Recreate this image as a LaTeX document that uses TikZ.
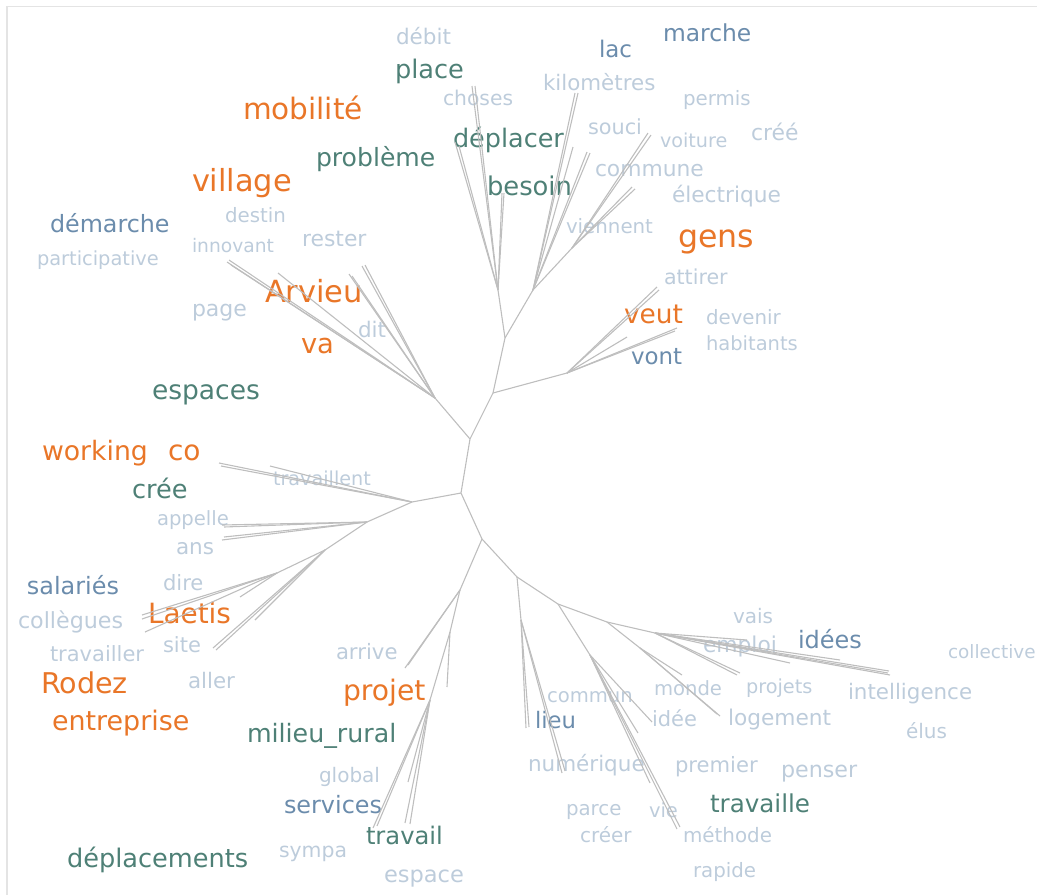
\documentclass[tikz,border=0pt]{standalone}
\usepackage{fontspec}
\setmainfont{DejaVu Sans}
\definecolor{orangec}{HTML}{E97628}
\definecolor{tealc}{HTML}{4E8076}
\definecolor{slatec}{HTML}{6B8CAC}
\definecolor{lightc}{HTML}{BDCCDB}
\definecolor{treec}{HTML}{BEBEBE}
\definecolor{framec}{HTML}{E4E4E4}
\newcommand\fsz[1]{\fontsize{#1}{#1}\selectfont}
\tikzset{
  wd/.style={inner sep=0pt, outer sep=0pt, anchor=base west},
  og/.style={wd, text=orangec},
  tl/.style={wd, text=tealc},
  sl/.style={wd, text=slatec},
  lt/.style={wd, text=lightc},
  br/.style={draw=treec, line width=1.1pt},
  frm/.style={draw=framec, line width=1.6pt},
}
\begin{document}
\begin{tikzpicture}[x=1pt, y=-1pt]
\useasboundingbox (0,0) rectangle (1037,895);
\coordinate (f1) at (7,895);
\coordinate (f2) at (7,6.5);
\coordinate (f3) at (1037,6.5);
\draw[frm] (f1) -- (f2) -- (f3);

% words
\node[lt, font=\fsz{21.5}] (debit) at (396,44) {débit};
\node[tl, font=\fsz{25.6}] (place) at (395,78) {place};
\node[og, font=\fsz{29.5}] (mobilite) at (243,119) {mobilité};
\node[lt, font=\fsz{20.3}] (choses) at (443,105) {choses};
\node[tl, font=\fsz{25.5}] (deplacer) at (453,147) {déplacer};
\node[tl, font=\fsz{25.1}] (probleme) at (316,166) {problème};
\node[og, font=\fsz{30.4}] (village) at (192,191) {village};
\node[tl, font=\fsz{25.8}] (besoin) at (487,195) {besoin};
\node[sl, font=\fsz{23.8}] (demarche) at (50,232) {démarche};
\node[lt, font=\fsz{19.8}] (destin) at (225,222) {destin};
\node[lt, font=\fsz{18.7}] (innovant) at (192,252) {innovant};
\node[lt, font=\fsz{21.9}] (rester) at (302,246) {rester};
\node[lt, font=\fsz{19.4}] (participative) at (37,265) {participative};
\node[og, font=\fsz{30.5}] (arvieu) at (265,302) {Arvieu};
\node[lt, font=\fsz{22}] (page) at (192,316) {page};
\node[lt, font=\fsz{21.5}] (dit) at (358,337) {dit};
\node[og, font=\fsz{27.4}] (va) at (301,353) {va};
\node[tl, font=\fsz{26.5}] (espaces) at (152,399) {espaces};
\node[sl, font=\fsz{22.9}] (lac) at (599,57) {lac};
\node[sl, font=\fsz{23.4}] (marche) at (663,41) {marche};
\node[lt, font=\fsz{21.4}] (kilometres) at (543,90) {kilomètres};
\node[lt, font=\fsz{19.8}] (permis) at (683,105) {permis};
\node[lt, font=\fsz{20.8}] (souci) at (588,134) {souci};
\node[lt, font=\fsz{19.2}] (voiture) at (660,147) {voiture};
\node[lt, font=\fsz{21.9}] (creee) at (751,140) {créé};
\node[lt, font=\fsz{21.8}] (commune) at (595,176) {commune};
\node[lt, font=\fsz{21.7}] (electrique) at (672,202) {électrique};
\node[lt, font=\fsz{19.8}] (viennent) at (566,233) {viennent};
\node[og, font=\fsz{31.6}] (gens) at (678,247) {gens};
\node[lt, font=\fsz{20.6}] (attirer) at (664,284) {attirer};
\node[og, font=\fsz{26.4}] (veut) at (624,323) {veut};
\node[lt, font=\fsz{19.8}] (devenir) at (706,324) {devenir};
\node[lt, font=\fsz{19.5}] (habitants) at (706,350) {habitants};
\node[sl, font=\fsz{22.9}] (vont) at (631,364) {vont};
\node[og, font=\fsz{26.7}] (working) at (42,460) {working};
\node[og, font=\fsz{28}] (co) at (168,460) {co};
\node[tl, font=\fsz{25.6}] (cree) at (132,498) {crée};
\node[lt, font=\fsz{19.2}] (travaillent) at (273,485) {travaillent};
\node[lt, font=\fsz{19.6}] (appelle) at (157,525) {appelle};
\node[lt, font=\fsz{21.5}] (ans) at (176,554) {ans};
\node[sl, font=\fsz{23.9}] (salaries) at (27,594) {salariés};
\node[lt, font=\fsz{21.1}] (dire) at (163,590) {dire};
\node[lt, font=\fsz{22.2}] (collegues) at (18,628) {collègues};
\node[og, font=\fsz{27.9}] (laetis) at (148,623) {Laetis};
\node[lt, font=\fsz{21}] (travailler) at (50,661) {travailler};
\node[lt, font=\fsz{21}] (site) at (163,652) {site};
\node[og, font=\fsz{28.6}] (rodez) at (41,693) {Rodez};
\node[lt, font=\fsz{21.4}] (aller) at (188,688) {aller};
\node[lt, font=\fsz{21.2}] (arrive) at (336,659) {arrive};
\node[og, font=\fsz{28.2}] (projet) at (343,700) {projet};
\node[og, font=\fsz{26.9}] (entreprise) at (52,730) {entreprise};
\node[tl, font=\fsz{25.3}] (milieu) at (247,742) {milieu\_rural};
\node[lt, font=\fsz{20}] (global) at (319,782) {global};
\node[sl, font=\fsz{23.9}] (services) at (284,813) {services};
\node[tl, font=\fsz{24.2}] (travail) at (366,844) {travail};
\node[tl, font=\fsz{25.6}] (deplacements) at (67,867) {déplacements};
\node[lt, font=\fsz{20.4}] (sympa) at (279,857) {sympa};
\node[lt, font=\fsz{22.5}] (espace) at (384,882) {espace};
\node[lt, font=\fsz{20}] (vais) at (733,623) {vais};
\node[lt, font=\fsz{21.8}] (emploi) at (703,652) {emploi};
\node[sl, font=\fsz{24}] (idees) at (798,648) {idées};
\node[lt, font=\fsz{18.4}] (collective) at (948,658) {collective};
\node[lt, font=\fsz{19.6}] (commun) at (547,702) {commun};
\node[lt, font=\fsz{19.6}] (monde) at (654,695) {monde};
\node[lt, font=\fsz{19.3}] (projets) at (746,693) {projets};
\node[lt, font=\fsz{21.4}] (intelligence) at (848,699) {intelligence};
\node[sl, font=\fsz{22.7}] (lieu) at (535,728) {lieu};
\node[lt, font=\fsz{21}] (idee) at (652,726) {idée};
\node[lt, font=\fsz{21.7}] (logement) at (728,725) {logement};
\node[lt, font=\fsz{20}] (elus) at (906,738) {élus};
\node[lt, font=\fsz{21.5}] (numerique) at (528,771) {numérique};
\node[lt, font=\fsz{21.1}] (premier) at (675,772) {premier};
\node[lt, font=\fsz{22.2}] (penser) at (781,777) {penser};
\node[tl, font=\fsz{24.6}] (travaille) at (710,812) {travaille};
\node[lt, font=\fsz{19.8}] (parce) at (566,815) {parce};
\node[lt, font=\fsz{19.5}] (vie) at (649,817) {vie};
\node[lt, font=\fsz{20}] (creer) at (580,842) {créer};
\node[lt, font=\fsz{19.9}] (methode) at (683,842) {méthode};
\node[lt, font=\fsz{19.8}] (rapide) at (693,877) {rapide};

% tree joints
\coordinate (c0) at (493,393);
\coordinate (c1) at (470,439);
\coordinate (c2) at (461,493);
\coordinate (c3) at (482,539);
\coordinate (c4) at (517,577);
\coordinate (c5) at (558,604);
\coordinate (c6) at (607,622);
\coordinate (c7) at (655,633);
\coordinate (j1) at (505,338);
\coordinate (t1) at (498,290);
\coordinate (t2) at (533,290);
\coordinate (t3) at (572,248);
\coordinate (v1) at (567,373);
\coordinate (w1) at (435,398);
\coordinate (l1) at (412,502);
\coordinate (l2) at (367,522);
\coordinate (l3) at (325,550);
\coordinate (l4) at (277,573);
\coordinate (p1) at (460,590);
\coordinate (p2) at (450,632);
\coordinate (p3) at (430,700);
\coordinate (q1) at (521,620);
\coordinate (r1) at (590,655);
\coordinate (s1) at (640,648);

% leaves
\coordinate (a1) at (472,86);  \coordinate (a2) at (475,86);
\coordinate (a3) at (455,142); \coordinate (a4) at (459,146);
\coordinate (a5) at (502,193); \coordinate (a6) at (504,193);
\coordinate (b1) at (575,93);  \coordinate (b2) at (578,93);
\coordinate (b3) at (573,147); \coordinate (b4) at (587,152);
\coordinate (b5) at (590,153);
\coordinate (b6) at (648,133); \coordinate (b7) at (651,135);
\coordinate (b8) at (632,187); \coordinate (b9) at (635,189);
\coordinate (d1) at (657,287); \coordinate (d2) at (659,290);
\coordinate (d3) at (677,328); \coordinate (d4) at (675,331);
\coordinate (d5) at (627,337);
\coordinate (e1) at (227,262); \coordinate (e2) at (229,260);
\coordinate (e3) at (231,265); \coordinate (e4) at (278,273);
\coordinate (e5) at (349,274); \coordinate (e6) at (352,276);
\coordinate (e7) at (362,266); \coordinate (e8) at (365,265);
\coordinate (g1) at (219,463); \coordinate (g2) at (221,466);
\coordinate (g3) at (270,466);
\coordinate (g4) at (222,525); \coordinate (g5) at (224,527);
\coordinate (g6) at (222,540); \coordinate (g7) at (224,537);
\coordinate (g8) at (142,615); \coordinate (g9) at (142,619);
\coordinate (g10) at (145,632); \coordinate (g11) at (240,597);
\coordinate (g12) at (213,648); \coordinate (g13) at (216,650);
\coordinate (g14) at (255,620);
\coordinate (h1) at (405,668); \coordinate (h2) at (408,665);
\coordinate (h3) at (447,687);
\coordinate (h4) at (373,828); \coordinate (h5) at (377,826);
\coordinate (h6) at (405,823); \coordinate (h7) at (408,782);
\coordinate (h8) at (410,824);
\coordinate (k1) at (526,728); \coordinate (k2) at (529,727);
\coordinate (k3) at (562,773); \coordinate (k4) at (565,771);
\coordinate (m1) at (652,722); \coordinate (m2) at (638,733);
\coordinate (m3) at (680,827); \coordinate (m4) at (677,829);
\coordinate (m5) at (650,783);
\coordinate (n1) at (682,675); \coordinate (n2) at (717,714);
\coordinate (n3) at (720,716);
\coordinate (o1) at (737,675); \coordinate (o2) at (740,673);
\coordinate (o3) at (790,663); \coordinate (o4) at (840,660);
\coordinate (o5) at (889,671); \coordinate (o6) at (890,675);
\coordinate (o7) at (888,673); \coordinate (o8) at (747,640);

% trunk
\draw[br] (j1) -- (c0) -- (c1) -- (c2) -- (c3) -- (c4) -- (c5) -- (c6) -- (c7);
\draw[br] (c0) -- (v1);
\draw[br] (c1) -- (w1);
\draw[br] (c2) -- (l1);
\draw[br] (c3) -- (p1);
\draw[br] (j1) -- (t1);
\draw[br] (j1) -- (t2) -- (t3);
\draw[br] (l1) -- (l2) -- (l3) -- (l4);
\draw[br] (p1) -- (p2) -- (p3);
\draw[br] (c4) -- (q1);
\draw[br] (c5) -- (r1);
\draw[br] (c6) -- (s1);

% leaf edges
\foreach \a in {a1,a2,a3,a4,a5,a6} \draw[br] (t1) -- (\a);
\foreach \a in {b1,b2,b3,b4,b5} \draw[br] (t2) -- (\a);
\foreach \a in {b6,b7,b8,b9} \draw[br] (t3) -- (\a);
\foreach \a in {d1,d2,d3,d4,d5} \draw[br] (v1) -- (\a);
\foreach \a in {e1,e2,e3,e4,e5,e6,e7,e8} \draw[br] (w1) -- (\a);
\foreach \a in {g1,g2,g3} \draw[br] (l1) -- (\a);
\foreach \a in {g4,g5,g6,g7} \draw[br] (l2) -- (\a);
\foreach \a in {g12,g13,g14} \draw[br] (l3) -- (\a);
\foreach \a in {g8,g9,g10,g11} \draw[br] (l4) -- (\a);
\foreach \a in {h1,h2} \draw[br] (p1) -- (\a);
\draw[br] (p2) -- (h3);
\foreach \a in {h4,h5,h6,h7,h8} \draw[br] (p3) -- (\a);
\foreach \a in {k1,k2,k3,k4} \draw[br] (q1) -- (\a);
\foreach \a in {m1,m2,m3,m4,m5} \draw[br] (r1) -- (\a);
\foreach \a in {n1,n2,n3} \draw[br] (s1) -- (\a);
\foreach \a in {o1,o2,o3,o4,o5,o6,o7,o8} \draw[br] (c7) -- (\a);
\end{tikzpicture}
\end{document}
